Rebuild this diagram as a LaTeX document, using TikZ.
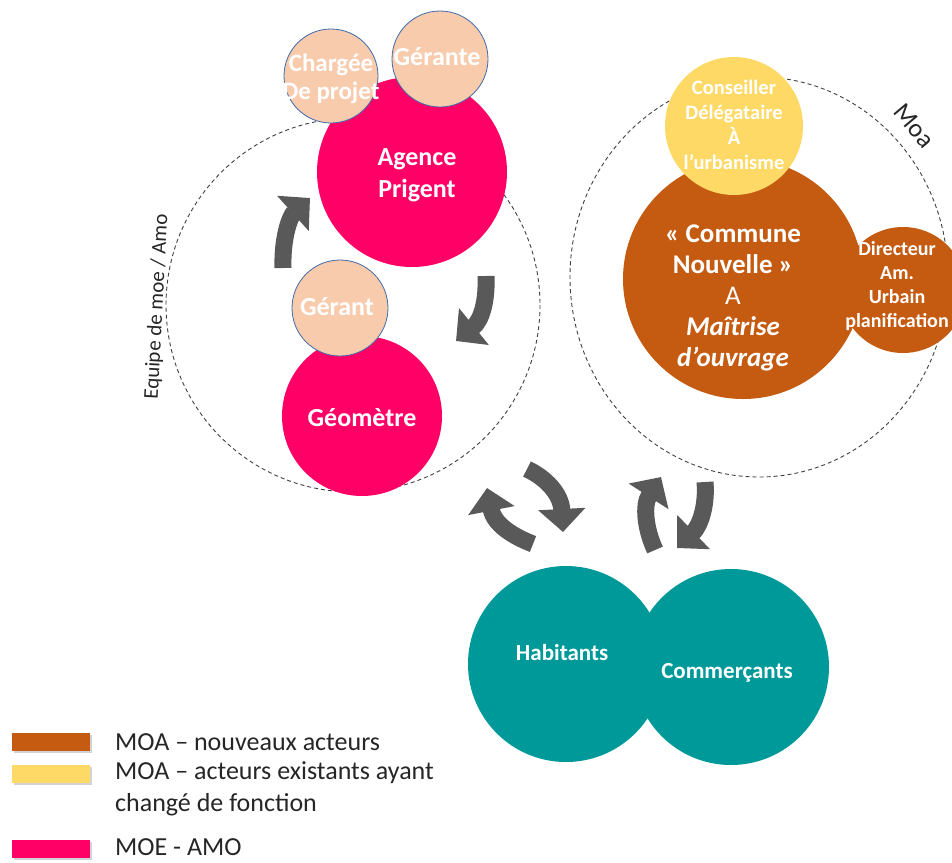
\documentclass[tikz,border=0pt]{standalone}
\usepackage{fontspec}
\setmainfont{Carlito}
\usepackage{xcolor}
\definecolor{rosePrigent}{RGB}{255,0,102}
\definecolor{peche}{RGB}{248,203,173}
\definecolor{bordPeche}{RGB}{65,105,170}
\definecolor{orangeMOA}{RGB}{197,90,17}
\definecolor{jauneMOA}{RGB}{255,217,102}
\definecolor{tealHab}{RGB}{0,153,153}
\definecolor{grisFleche}{RGB}{89,89,89}
\usetikzlibrary{arrows.meta,shadows}

\begin{document}
\begin{tikzpicture}[x=1pt,y=-1pt,
    bulle/.style={circle, inner sep=0pt, minimum size=#1},
    pecheBulle/.style={bulle=#1, fill=peche, draw=bordPeche, line width=0.8pt},
    texteBlanc/.style 2 args={text=white, align=center, inner sep=0pt, font=\fontsize{#1}{#2}\selectfont\bfseries},
    pointille/.style={draw=black!75, line width=0.9pt, dash pattern=on 4pt off 3pt},
    fleche/.style={draw=grisFleche, line width=17pt, -{Triangle[length=23pt,width=46pt]}},
    legende/.style={rectangle, minimum width=78pt, minimum height=18pt, inner sep=0pt,
        drop shadow={shadow xshift=2pt,shadow yshift=-2pt,opacity=.35}},
    legtxt/.style={anchor=west, align=left, inner sep=0pt, text=black!85, font=\fontsize{26}{32}\selectfont},
    etiquette/.style={inner sep=0pt, text=black!85, font=\fontsize{21}{25}\selectfont}]
\useasboundingbox (0,0) rectangle (952,862);

% equipe de moe / amo
\draw[pointille] (353,305) circle (187);
\node[bulle=190pt, fill=rosePrigent] (agence) at (412,172) {};
\node[pecheBulle=96pt] (gerante) at (440,59) {};
\node[pecheBulle=94pt] (chargee) at (331,76) {};
\node[bulle=160pt, fill=rosePrigent] (geometre) at (362,416) {};
\node[pecheBulle=96pt] (gerant) at (340,308) {};

\node[texteBlanc={26}{32}] (agenceTxt) at (417,175) {Agence\\Prigent};
\node[texteBlanc={26}{28}] (geranteTxt) at (437,57) {Gérante};
\node[texteBlanc={25}{28}] (chargeeTxt) at (331,79) {Chargée\\De projet};
\node[texteBlanc={26}{28}] (gerantTxt) at (337,307) {Gérant};
\node[texteBlanc={26}{28}] (geometreTxt) at (362,418) {Géomètre};
\node[etiquette, rotate=87] (lblEquipe) at (157,307) {Equipe de moe / Amo};

% moa
\draw[pointille] (759,277) ellipse [x radius=189, y radius=200];
\node[bulle=240pt, fill=orangeMOA] (commune) at (743,279) {};
\node[bulle=126pt, fill=orangeMOA] (directeur) at (903,290) {};
\node[bulle=138pt, fill=jauneMOA] (conseiller) at (734,126) {};

\node[texteBlanc={20.5}{25}] (conseillerTxt) at (734,125) {Conseiller\\Délégataire\\À\\l’urbanisme};
\node[texteBlanc={27}{31}] (communeTxt) at (733,298)
    {«~Commune\\Nouvelle~»\\{\mdseries A}\\{\itshape Maîtrise}\\{\itshape d’ouvrage}};
\node[texteBlanc={20}{24}] (directeurTxt) at (897,286) {Directeur\\Am.\\Urbain\\planification};
\node[etiquette, font=\fontsize{26}{30}\selectfont, rotate=-50] (lblMoa) at (914,126) {Moa};

% habitants / commercants
\node[bulle=196pt, fill=tealHab] (habitants) at (566,664) {};
\node[bulle=196pt, fill=tealHab] (commercants) at (731,667) {};
\node[texteBlanc={23}{28}] (habitantsTxt) at (562,653) {Habitants};
\node[texteBlanc={23}{28}] (commercantsTxt) at (727,673) {Commerçants};

% fleches
\draw[fleche] (283,268) .. controls (282,238) and (290,216) .. (310,198);
\draw[fleche] (486,276) .. controls (487,300) and (482,320) .. (456,341);
\draw[fleche] (533,544) .. controls (512,536) and (494,524) .. (487,488);
\draw[fleche] (527,469) .. controls (546,478) and (561,494) .. (563,532);
\draw[fleche] (655,550) .. controls (645,528) and (643,505) .. (661,477);
\draw[fleche] (705,482) .. controls (707,506) and (700,526) .. (677,548);

% legende
\node[legende, fill=orangeMOA] (lgOrange) at (51,742) {};
\node[legende, fill=jauneMOA] (lgJaune) at (51,774) {};
\node[legende, fill=rosePrigent] (lgRose) at (51,849) {};
\node[legtxt] (lgOrangeTxt) at (115,742) {MOA – nouveaux acteurs};
\node[legtxt] (lgJauneTxt) at (115,789) {MOA – acteurs existants ayant\\changé de fonction};
\node[legtxt] (lgRoseTxt) at (115,847) {MOE - AMO};
\end{tikzpicture}
\end{document}
